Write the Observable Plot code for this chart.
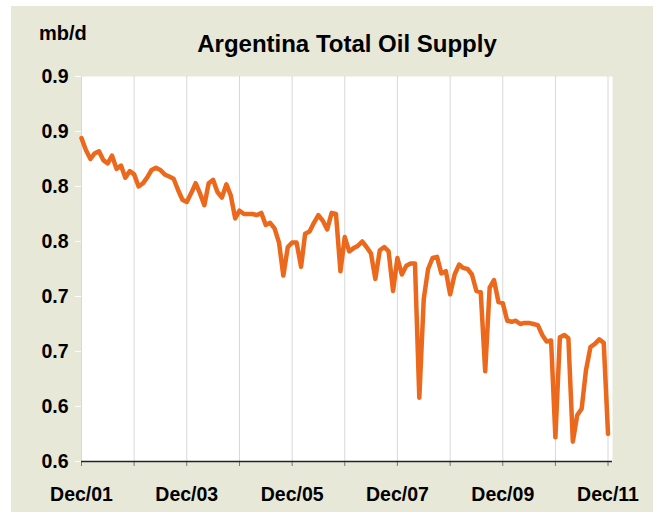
<!DOCTYPE html>
<html>
<head>
<meta charset="utf-8">
<script src="https://cdn.jsdelivr.net/npm/d3@7"></script>
<script src="https://cdn.jsdelivr.net/npm/@observablehq/plot@0.6"></script>
<style>
  html, body { margin: 0; padding: 0; background: #ffffff; }
  #wrap { position: relative; width: 661px; height: 518px; overflow: hidden; font-family: "Liberation Sans", Arial, sans-serif; }
  #panel { position: absolute; left: 11px; top: 6px; width: 642px; height: 506px; background: #E8E8D8; }
  #chart { position: absolute; left: 0; top: 0; }
  #title { position: absolute; left: 0; width: 694px; top: 30px; text-align: center; font-weight: bold; font-size: 24px; color: #000; }
  #unit { position: absolute; left: 39px; top: 22px; font-weight: bold; font-size: 20px; color: #000; }
</style>
</head>
<body>
<div id="wrap">
  <div id="panel"></div>
  <div id="chart"></div>
  <div id="unit">mb/d</div>
  <div id="title">Argentina Total Oil Supply</div>
</div>
<script>
// Monthly supply, mb/d, from Dec 2001 to Dec 2011
const startMonth = "2001-12-01";
const supply = [
  0.894, 0.883, 0.875, 0.880, 0.882, 0.874, 0.871, 0.878, 0.866, 0.869, 0.858, 0.864,
  0.861, 0.850, 0.853, 0.858, 0.865, 0.867, 0.865, 0.861, 0.859, 0.857, 0.847, 0.838,
  0.836, 0.844, 0.853, 0.844, 0.833, 0.853, 0.856, 0.845, 0.840, 0.852, 0.842, 0.821,
  0.828, 0.825, 0.825, 0.825, 0.824, 0.826, 0.815, 0.817, 0.812, 0.799, 0.769, 0.795,
  0.799, 0.799, 0.777, 0.807, 0.809, 0.817, 0.824, 0.819, 0.811, 0.826, 0.825, 0.773,
  0.804, 0.791, 0.794, 0.796, 0.800, 0.795, 0.789, 0.766, 0.792, 0.795, 0.791, 0.755,
  0.785, 0.770, 0.778, 0.780, 0.780, 0.658, 0.748, 0.775, 0.785, 0.786, 0.771, 0.773,
  0.752, 0.770, 0.779, 0.776, 0.775, 0.770, 0.755, 0.754, 0.682, 0.758, 0.765, 0.745,
  0.744, 0.728, 0.727, 0.728, 0.725, 0.726, 0.726, 0.725, 0.724, 0.715, 0.709, 0.710,
  0.622, 0.713, 0.715, 0.712, 0.618, 0.642, 0.648, 0.683, 0.704, 0.707, 0.711, 0.708,
  0.625
];
const yTicks = [0.60, 0.65, 0.70, 0.75, 0.80, 0.85, 0.90, 0.95];
const yTickLabels = ["0.6", "0.6", "0.7", "0.7", "0.8", "0.8", "0.9", "0.9"];
const gridYears = [2001, 2002, 2003, 2004, 2005, 2006, 2007, 2008, 2009, 2010, 2011];
const labelYears = [2001, 2003, 2005, 2007, 2009, 2011];

const start = new Date(startMonth + "T00:00:00Z");
const data = supply.map((v, i) => ({date: d3.utcMonth.offset(start, i), value: v}));
const gridDates = gridYears.map(y => new Date(Date.UTC(y, 11, 1)));
const xDomain = [start, d3.utcMonth.offset(start, supply.length)];

const chart = Plot.plot({
  width: 661,
  height: 518,
  marginLeft: 81,
  marginRight: 49,
  marginTop: 76,
  marginBottom: 57,
  style: {background: "transparent", fontFamily: "'Liberation Sans', Arial, sans-serif", fontSize: "19px", fontWeight: "bold", color: "#000"},
  x: {type: "utc", domain: xDomain},
  y: {domain: [0.60, 0.95]},
  marks: [
    Plot.frame({fill: "white", stroke: null}),
    Plot.ruleX(gridDates, {stroke: "#d8d8d8", strokeWidth: 1}),
    Plot.axisY({ticks: yTicks, tickFormat: (d, i) => yTickLabels[i], tickSize: 6, tickPadding: 7, stroke: "#ffffff", fill: "#000", fontSize: 19.5, fontWeight: "bold", label: null}),
    Plot.axisX({ticks: gridDates, tickFormat: d => labelYears.includes(d.getUTCFullYear()) ? "Dec/" + String(d.getUTCFullYear()).slice(2) : "", tickSize: 5, tickPadding: 21, stroke: "#777", fill: "#000", fontSize: 19.5, fontWeight: "bold", label: null}),
    Plot.ruleY([0.60], {stroke: "#222", strokeWidth: 1.5}),
    Plot.line(data, {x: "date", y: "value", stroke: "#EC681C", strokeWidth: 4.5, strokeLinejoin: "round", strokeLinecap: "round"})
  ]
});
document.getElementById("chart").appendChild(chart);
</script>
</body>
</html>
